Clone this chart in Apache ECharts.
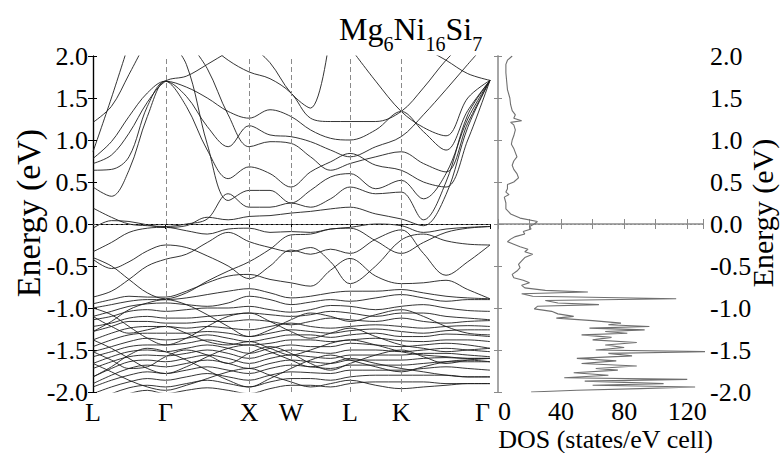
<!DOCTYPE html>
<html>
<head>
<meta charset="utf-8">
<script src="https://cdn.jsdelivr.net/npm/echarts@6/dist/echarts.min.js"></script>
<style>
  html, body { margin: 0; padding: 0; background: #fff; }
  #chart { width: 781px; height: 453px; }
</style>
</head>
<body>
<div id="chart"></div>
<script>
// High-symmetry points of the fcc path (distance along k, units of 2π/a)
const kTicks = [0, 0.866, 1.866, 2.366, 3.073, 3.685, 4.746];
const kNames = ['L', 'Γ', 'X', 'W', 'L', 'K', 'Γ'];
// k positions where each band energy is sampled
const kGrid = [0, 0.22, 0.43, 0.65, 0.866, 1.116, 1.366, 1.616, 1.866, 2.116,
               2.366, 2.60, 2.84, 3.073, 3.38, 3.685, 3.95, 4.22, 4.48, 4.746];

// Band energies (eV) at kGrid; null = outside the plotted window
const band01 = [1.21, 1.40, 1.78, 2.20, null, null, null, null, null, null, null, null, null, null, null, null, null, null, null, null];
const band02 = [0.86, 1.50, 2.15, null, null, null, null, null, null, null, null, null, null, null, null, null, null, null, null, null];
const band03 = [0.78, 0.98, 1.28, 1.56, 1.70, 1.63, 1.50, 1.34, 1.26, 1.36, 1.28, 1.12, 1.02, 1.00, 1.12, 1.34, 1.10, 0.88, 1.35, 1.71];
const band04 = [0.72, 0.82, 1.08, 1.45, 1.70, 1.76, 1.90, 2.05, 2.20, null, null, null, null, null, null, null, null, null, null, null];
const band05 = [0.64, 0.65, 0.80, 1.40, 1.70, 1.52, 1.16, 0.92, 1.17, 1.06, 1.04, 0.98, 0.88, 0.80, 0.92, 1.04, 1.30, 1.60, 1.90, 2.20];
const band06 = [0.44, 0.33, 0.64, 1.28, 1.70, 1.40, 0.88, 0.54, 0.68, 0.60, 0.44, 0.62, 0.74, 0.84, 0.70, 0.64, 0.50, 0.44, 1.00, 1.71];
const band07 = [null, null, null, null, 2.25, 1.90, 0.95, 0.28, 0.40, 0.40, 0.25, 0.40, 0.56, 0.60, 0.42, 0.52, 0.30, 0.60, 1.25, 1.71];
const band08 = [null, null, null, null, null, 2.20, 1.85, 1.30, 0.92, 0.98, 0.96, 0.80, 0.64, 0.72, 0.80, 0.86, 0.72, 0.62, 1.20, 1.71];
const band09 = [null, null, null, null, null, null, 2.15, 1.95, 1.81, 1.73, 1.56, 1.26, 1.22, 1.22, 1.22, 1.34, 1.62, 1.95, 2.20, null];
const band10 = [null, null, null, null, null, null, null, 2.40, 2.15, 1.92, 1.56, 1.38, 2.30, null, null, null, null, null, null, null];
const band11 = [null, null, null, null, null, null, null, null, null, null, null, null, null, null, 2.40, 2.25, 2.10, 1.95, 1.79, 1.71];
const band12 = [null, null, null, null, null, null, null, null, null, null, null, null, null, 2.10, 1.70, 1.34, 1.15, 1.05, 1.50, 1.71];
const band13 = [0.19, 0.08, 0.00, -0.02, -0.03, 0.00, 0.06, 0.36, 0.20, 0.20, 0.25, 0.20, 0.30, 0.44, 0.36, 0.38, 0.05, 0.50, 1.30, 1.71];
const band14 = [-0.05, 0.04, 0.03, -0.01, -0.04, -0.02, 0.08, 0.05, 0.09, 0.10, 0.13, 0.15, 0.18, 0.20, 0.12, 0.06, -0.02, 0.35, 1.15, 1.71];
const band15 = [-0.33, -0.22, -0.10, -0.05, -0.04, -0.08, -0.12, -0.06, -0.05, -0.10, -0.09, -0.10, -0.06, -0.04, 0.00, -0.02, -0.10, -0.06, -0.04, -0.03];
const band16 = [-0.40, -0.50, -0.66, -0.82, -0.89, -0.82, -0.68, -0.56, -0.45, -0.30, -0.13, -0.12, -0.06, -0.05, -0.20, -0.35, -0.22, -0.10, -0.05, -0.03];
const band17 = [-0.42, -0.53, -0.45, -0.32, -0.25, -0.28, -0.38, -0.50, -0.65, -0.50, -0.31, -0.36, -0.30, -0.35, -0.18, -0.07, -0.35, -0.61, -0.45, -0.25];
const band18 = [-0.87, -0.80, -0.66, -0.50, -0.42, -0.36, -0.22, -0.10, -0.21, -0.28, -0.33, -0.28, -0.45, -0.71, -0.50, -0.19, -0.12, -0.20, -0.24, -0.25];
const band19 = [-0.95, -0.90, -0.86, -0.87, -0.87, -0.80, -0.70, -0.62, -0.60, -0.66, -0.70, -0.74, -0.55, -0.41, -0.62, -0.71, -0.70, -0.67, -0.78, -0.89];
const band20 = [-1.00, -0.96, -0.92, -0.90, -0.90, -0.88, -0.84, -0.80, -0.77, -0.82, -0.88, -0.86, -0.82, -0.80, -0.80, -0.78, -0.82, -0.86, -0.88, -0.89];
const band21 = [-1.10, -1.04, -0.98, -0.95, -0.94, -0.96, -0.98, -0.94, -0.86, -0.90, -0.96, -0.93, -0.90, -0.92, -0.88, -0.84, -0.88, -0.92, -0.90, -0.90];
const band22 = [-1.14, -1.10, -1.04, -1.02, -1.04, -1.02, -1.00, -1.00, -0.98, -1.02, -1.05, -1.02, -0.97, -0.98, -1.02, -0.98, -0.96, -1.00, -1.03, -1.04];
const band23 = [-1.22, -1.18, -1.12, -1.10, -1.12, -1.12, -1.10, -1.08, -1.06, -1.08, -1.10, -1.08, -1.04, -1.06, -1.10, -1.06, -1.06, -1.10, -1.12, -1.14];
const band24 = [-1.28, -1.22, -1.16, -1.16, -1.18, -1.18, -1.16, -1.16, -1.14, -1.16, -1.20, -1.16, -1.12, -1.14, -1.16, -1.12, -1.16, -1.18, -1.16, -1.15];
const band25 = [-1.38, -1.30, -1.24, -1.22, -1.22, -1.24, -1.22, -1.24, -1.26, -1.22, -1.18, -1.22, -1.24, -1.22, -1.20, -1.22, -1.24, -1.22, -1.21, -1.22];
const band26 = [-1.46, -1.38, -1.32, -1.30, -1.30, -1.30, -1.28, -1.30, -1.34, -1.30, -1.26, -1.28, -1.30, -1.27, -1.25, -1.28, -1.30, -1.27, -1.26, -1.26];
const band27 = [-1.52, -1.46, -1.40, -1.36, -1.38, -1.36, -1.32, -1.36, -1.40, -1.36, -1.32, -1.32, -1.35, -1.32, -1.30, -1.34, -1.34, -1.31, -1.32, -1.34];
const band28 = [-1.58, -1.52, -1.46, -1.44, -1.44, -1.42, -1.38, -1.42, -1.44, -1.42, -1.38, -1.38, -1.40, -1.38, -1.36, -1.39, -1.40, -1.38, -1.38, -1.40];
const band29 = [-1.66, -1.58, -1.52, -1.50, -1.52, -1.48, -1.44, -1.48, -1.54, -1.48, -1.44, -1.46, -1.46, -1.42, -1.44, -1.46, -1.44, -1.42, -1.44, -1.48];
const band30 = [-1.72, -1.64, -1.58, -1.56, -1.57, -1.54, -1.50, -1.54, -1.60, -1.54, -1.50, -1.52, -1.54, -1.50, -1.50, -1.52, -1.50, -1.48, -1.50, -1.52];
const band31 = [-1.82, -1.72, -1.64, -1.62, -1.64, -1.60, -1.56, -1.60, -1.66, -1.60, -1.56, -1.58, -1.60, -1.56, -1.56, -1.56, -1.54, -1.54, -1.56, -1.58];
const band32 = [-1.90, -1.80, -1.72, -1.68, -1.70, -1.66, -1.62, -1.66, -1.72, -1.66, -1.62, -1.64, -1.66, -1.62, -1.62, -1.62, -1.60, -1.59, -1.60, -1.60];
const band33 = [-1.94, -1.86, -1.80, -1.76, -1.78, -1.74, -1.70, -1.74, -1.78, -1.72, -1.68, -1.70, -1.72, -1.68, -1.68, -1.68, -1.66, -1.64, -1.64, -1.64];
const band34 = [-2.02, -1.94, -1.88, -1.84, -1.86, -1.82, -1.78, -1.82, -1.86, -1.80, -1.76, -1.77, -1.78, -1.74, -1.74, -1.74, -1.72, -1.70, -1.72, -1.74];
const band35 = [-2.10, -2.02, -1.95, -1.92, -1.94, -1.90, -1.86, -1.90, -1.94, -1.88, -1.84, -1.84, -1.86, -1.82, -1.80, -1.80, -1.80, -1.80, -1.82, -1.82];
const band36 = [-2.20, -2.10, -2.02, -1.98, -2.02, -1.98, -1.95, -1.98, -2.02, -1.96, -1.92, -1.92, -1.94, -1.90, -1.88, -1.88, -1.88, -1.90, -1.90, -1.90];
const band37 = [-1.00, -1.08, -1.22, -1.36, -1.44, -1.36, -1.22, -1.10, -1.06, -1.16, -1.28, -1.36, -1.30, -1.24, -1.34, -1.44, -1.48, -1.52, -1.50, -1.48];
const band38 = [-1.28, -1.16, -1.02, -0.94, -0.90, -0.96, -1.08, -1.22, -1.34, -1.26, -1.14, -1.06, -1.10, -1.16, -1.08, -1.02, -1.10, -1.22, -1.30, -1.32];
const band39 = [-1.52, -1.62, -1.72, -1.70, -1.58, -1.50, -1.56, -1.66, -1.54, -1.46, -1.54, -1.66, -1.74, -1.66, -1.56, -1.50, -1.58, -1.66, -1.62, -1.60];
const band40 = [-1.82, -1.70, -1.56, -1.48, -1.52, -1.62, -1.74, -1.86, -1.94, -1.84, -1.72, -1.62, -1.56, -1.62, -1.70, -1.76, -1.70, -1.64, -1.62, -1.64];
const band41 = [-1.10, -1.22, -1.30, -1.26, -1.22, -1.30, -1.40, -1.44, -1.40, -1.48, -1.56, -1.50, -1.42, -1.38, -1.44, -1.52, -1.56, -1.58, -1.60, -1.60];
const band42 = [-1.38, -1.48, -1.60, -1.72, -1.78, -1.70, -1.58, -1.48, -1.44, -1.52, -1.62, -1.70, -1.66, -1.60, -1.66, -1.72, -1.76, -1.80, -1.82, -1.82];
const band43 = [-1.66, -1.76, -1.86, -1.94, -1.98, -1.92, -1.84, -1.76, -1.72, -1.80, -1.88, -1.94, -1.90, -1.86, -1.92, -1.96, -1.94, -1.92, -1.90, -1.90];

// Total density of states: energy (eV) and states/eV cell
const dosEnergy = [2.00, 1.95, 1.90, 1.80, 1.70, 1.60, 1.50, 1.42, 1.35, 1.30, 1.26, 1.23, 1.21, 1.18, 1.12, 1.05,
  1.00, 0.95, 0.90, 0.85, 0.80, 0.75, 0.70, 0.65, 0.60, 0.55, 0.50, 0.47, 0.42, 0.38, 0.35, 0.32, 0.25, 0.18,
  0.12, 0.07, 0.03, 0.00, -0.03, -0.06, -0.09, -0.12, -0.15, -0.18, -0.21, -0.24, -0.27, -0.30, -0.33, -0.36,
  -0.40, -0.44, -0.48, -0.52, -0.56, -0.60, -0.64, -0.67, -0.70, -0.73, -0.76, -0.79, -0.81, -0.83, -0.86,
  -0.89, -0.91, -0.94, -0.96, -0.98, -1.01, -1.04, -1.07, -1.10, -1.12, -1.15, -1.18, -1.20, -1.22, -1.24,
  -1.26, -1.28, -1.30, -1.32, -1.35, -1.38, -1.41, -1.44, -1.47, -1.50, -1.52, -1.54, -1.57, -1.60, -1.63,
  -1.66, -1.69, -1.72, -1.74, -1.77, -1.80, -1.83, -1.85, -1.87, -1.90, -1.92, -1.94, -1.96, -1.98, -2.00];
const dosStates = [9, 6, 5, 5, 5.5, 6, 7.5, 8, 9, 11, 10, 15, 8, 10, 11, 10,
  9, 8.5, 10, 11, 12, 10, 9, 10, 12, 13, 10, 6, 6, 5, 7, 4, 5, 5,
  8, 14, 25, 23, 20, 21, 16, 17, 11, 8, 6, 10, 14, 19, 17, 22,
  17, 15, 13, 14, 12, 9, 10, 16, 20, 15, 17, 30, 57, 15, 22,
  113, 30, 38, 64, 25, 23, 34, 38, 48, 37, 60, 78, 70, 96, 58,
  93, 68, 82, 53, 72, 60, 88, 68, 80, 62, 135, 70, 85, 50, 75,
  53, 88, 62, 76, 48, 70, 42, 120, 55, 105, 60, 125, 90, 50, 21];

const serif = '"Liberation Serif", "Times New Roman", serif';
const bands = [band01, band02, band03, band04, band05, band06, band07, band08, band09, band10,
  band11, band12, band13, band14, band15, band16, band17, band18, band19, band20,
  band21, band22, band23, band24, band25, band26, band27, band28, band29, band30,
  band31, band32, band33, band34, band35, band36, band37, band38, band39, band40,
  band41, band42, band43];

function kLabel(v) {
  let best = 0;
  kTicks.forEach((k, i) => { if (Math.abs(k - v) < Math.abs(kTicks[best] - v)) best = i; });
  return kNames[best];
}

const bandSeries = bands.map((vals, idx) => {
  const s = {
    type: 'line',
    xAxisIndex: 0,
    yAxisIndex: 0,
    data: kGrid.map((k, i) => [k, vals[i] == null ? '-' : vals[i]]),
    showSymbol: false,
    symbol: 'none',
    smooth: 0.35,
    clip: true,
    silent: true,
    lineStyle: { color: '#1e1e1e', width: 0.9 },
    z: 3
  };
  if (idx === 0) {
    s.markLine = {
      silent: true,
      symbol: ['none', 'none'],
      label: { show: false },
      animation: false,
      data: kTicks.slice(1, -1).map(k => ({ xAxis: k, lineStyle: { color: '#8a8a8a', type: [5, 3], width: 1 } }))
        .concat([{ yAxis: 0, lineStyle: { color: '#555', type: [3, 2], width: 1 } }])
    };
  }
  return s;
});

const dosSeries = {
  type: 'line',
  xAxisIndex: 2,
  yAxisIndex: 2,
  data: dosEnergy.map((e, i) => [dosStates[i], e]),
  showSymbol: false,
  symbol: 'none',
  clip: true,
  silent: true,
  lineStyle: { color: '#6f6f6f', width: 1.1 },
  markLine: {
    silent: true,
    symbol: ['none', 'none'],
    label: { show: false },
    data: [{ yAxis: 0, lineStyle: { color: '#8c8c8c', type: [2, 2], width: 1 } }]
  },
  z: 3
};

const tickFont = { fontFamily: serif, fontSize: 26, color: '#000', fontWeight: 'normal' };
const black = { lineStyle: { color: '#000', width: 1.2 } };
const gray = { lineStyle: { color: '#a3a3a3', width: 1.6 } };

const option = {
  animation: false,
  backgroundColor: '#fff',
  title: {
    text: '{m|Mg}{s|6}{m|Ni}{s|16}{m|Si}{s|7}',
    left: 334,
    top: 8,
    textStyle: {
      fontWeight: 'normal',
      rich: {
        m: { fontFamily: serif, fontSize: 32, fontWeight: 'normal', color: '#000', verticalAlign: 'bottom', padding: [0, 0, 9, 0] },
        s: { fontFamily: serif, fontSize: 20, fontWeight: 'normal', color: '#000', verticalAlign: 'bottom' }
      }
    }
  },
  grid: [
    { left: 93, top: 56, width: 397, height: 336, containLabel: false, outerBoundsMode: 'none' },
    { left: 498, top: 56, width: 205, height: 336, containLabel: false, outerBoundsMode: 'none' }
  ],
  xAxis: [
    {
      gridIndex: 0, type: 'value', position: 'bottom', min: 0, max: 4.746,
      axisLine: black,
      axisTick: { customValues: kTicks, length: 5, lineStyle: { color: '#000' } },
      axisLabel: { customValues: kTicks, formatter: kLabel, margin: 7, alignMaxLabel: 'right',
        fontFamily: serif, fontSize: 26, color: '#000' },
      splitLine: { show: false }
    },
    {
      gridIndex: 0, type: 'value', position: 'top', min: 0, max: 4.746,
      axisLine: black,
      axisTick: { customValues: kTicks, inside: true, length: 4, lineStyle: { color: '#000' } },
      axisLabel: { show: false },
      splitLine: { show: false }
    },
    {
      gridIndex: 1, type: 'value', position: 'bottom', min: 0, max: 130, interval: 20,
      axisLine: gray,
      axisTick: { inside: true, length: 5, lineStyle: { color: '#8a8a8a' } },
      axisLabel: Object.assign({ margin: 6, alignMinLabel: 'left', formatter: v => (v % 40 === 0 ? String(v) : '') }, tickFont),
      splitLine: { show: false },
      name: 'DOS (states/eV cell)',
      nameLocation: 'middle',
      nameMoveOverlap: false,
      nameGap: 34,
      nameTextStyle: { fontFamily: serif, fontSize: 26, color: '#000', padding: [0, 0, 0, 10] }
    },
    {
      gridIndex: 1, type: 'value', position: 'top', min: 0, max: 130, interval: 20,
      axisLine: gray,
      axisTick: { inside: true, length: 5, lineStyle: { color: '#8a8a8a' } },
      axisLabel: { show: false },
      splitLine: { show: false }
    }
  ],
  yAxis: [
    {
      gridIndex: 0, type: 'value', position: 'left', min: -2, max: 2, interval: 0.5,
      axisLine: black,
      axisTick: { length: 5, lineStyle: { color: '#000' } },
      axisLabel: Object.assign({ margin: 5, formatter: v => v.toFixed(1) }, tickFont),
      splitLine: { show: false },
      name: 'Energy (eV)',
      nameLocation: 'middle',
      nameMoveOverlap: false,
      nameRotate: 90,
      nameGap: 48,
      nameTextStyle: { fontFamily: serif, fontSize: 34, color: '#000', padding: [0, 0, 0, 22] }
    },
    {
      gridIndex: 0, type: 'value', position: 'right', min: -2, max: 2, interval: 0.5,
      axisLine: black,
      axisTick: { length: 4, lineStyle: { color: '#000' } },
      axisLabel: { show: false },
      splitLine: { show: false }
    },
    {
      gridIndex: 1, type: 'value', position: 'left', min: -2, max: 2, interval: 0.5,
      axisLine: gray,
      axisTick: { inside: true, length: 4, lineStyle: { color: '#8a8a8a' } },
      axisLabel: { show: false },
      splitLine: { show: false }
    },
    {
      gridIndex: 1, type: 'value', position: 'right', min: -2, max: 2, interval: 0.5,
      axisLine: gray,
      axisTick: { inside: true, length: 4, lineStyle: { color: '#8a8a8a' } },
      axisLabel: Object.assign({ margin: 7, formatter: v => v.toFixed(1) }, tickFont),
      splitLine: { show: false },
      name: 'Energy (eV)',
      nameLocation: 'middle',
      nameMoveOverlap: false,
      nameRotate: 90,
      nameGap: 44,
      nameTextStyle: { fontFamily: serif, fontSize: 30, color: '#000', padding: [0, 0, 0, 22] }
    }
  ],
  series: bandSeries.concat([dosSeries])
};

const chart = echarts.init(document.getElementById('chart'), null, { renderer: 'svg' });
chart.setOption(option);
</script>
</body>
</html>
